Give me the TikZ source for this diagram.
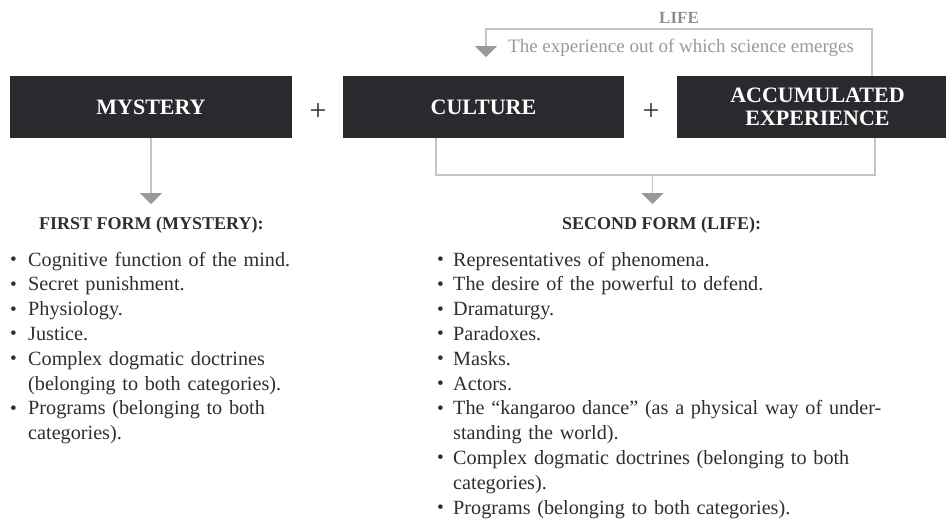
\documentclass[tikz,border=0pt]{standalone}
\usepackage{fontspec}
\setmainfont{Liberation Serif}
\usepackage{graphicx}
\usetikzlibrary{arrows.meta}
\definecolor{boxdark}{HTML}{2A292D}
\definecolor{linegrey}{HTML}{C4C4C4}
\definecolor{tipgrey}{HTML}{999999}
\definecolor{labgrey}{HTML}{8E8E8E}
\definecolor{bodytext}{HTML}{2E2E2E}
\newcommand\lbul[1]{\par\noindent\hangindent=#1\hangafter=1\makebox[#1][l]{\raisebox{0.05ex}{\scalebox{0.95}{\textbullet}}}}
\begin{document}
\begin{tikzpicture}[x=1pt,y=-1pt,
  blackbox/.style={fill=boxdark,draw=none,minimum width=281pt,minimum height=62pt,inner sep=0pt,text=white,align=center,font=\bfseries\fontsize{22}{23}\selectfont},
  plus/.style={text=bodytext,inner sep=0pt,font=\fontsize{30}{30}\selectfont},
  conn/.style={draw=linegrey,line width=1.3pt},
  gtip/.style={-{Triangle[width=22pt,length=11pt,color=tipgrey,fill=tipgrey]}},
  head/.style={text=bodytext,inner sep=0pt,font=\bfseries\fontsize{18}{20}\selectfont},
  blist/.style={text=bodytext,inner sep=0pt,align=left,font=\fontsize{20.2}{24.8}\selectfont}
]
\useasboundingbox (0,0) rectangle (946,520);
\node[blackbox,minimum width=282pt] (mystery) at (151,107) {MYSTERY};
\node[blackbox] (culture) at (483.5,107) {CULTURE};
\node[blackbox] (accum) at (817.5,107) {ACCUMULATED\\EXPERIENCE};
\node[plus] (p1) at (318,112) {+};
\node[plus] (p2) at (651,112) {+};
% top loop
\coordinate (topR) at (872,29);
\coordinate (topL) at (486,29);
\coordinate (topTip) at (486,57);
\draw[conn,gtip] (accum.north -| topR) -- (topR) -- (topL) -- (topTip);
\node[text=labgrey,inner sep=0pt,font=\bfseries\fontsize{17}{17}\selectfont] (life) at (679,18) {LIFE};
\node[text=tipgrey,inner sep=0pt,anchor=base west,font=\fontsize{19}{19}\selectfont] (exp) at (508,52) {The experience out of which science emerges};
% bottom bracket
\coordinate (bl) at (436,175);
\coordinate (br) at (875,175);
\coordinate (bm) at (652.5,175);
\coordinate (tip2) at (652.5,204);
\draw[conn] (culture.south -| bl) -- (bl) -- (br) -- (accum.south -| br);
\draw[conn,gtip] (bm) -- (tip2);
% mystery arrow
\coordinate (tip1) at (151,204);
\draw[conn,gtip] (mystery.south) -- (tip1);
% headings
\node[head,anchor=base west] (h1) at (39,229.5) {FIRST FORM (MYSTERY):};
\node[head,anchor=base west] (h2) at (562,229.5) {SECOND FORM (LIFE):};
% lists
\node[blist,anchor=north west,text width=330pt] (l1) at (10,241) {%
\lbul{18pt}Cognitive function of the mind.
\lbul{18pt}Secret punishment.
\lbul{18pt}Physiology.
\lbul{18pt}Justice.
\lbul{18pt}Complex dogmatic doctrines\newline (belonging to both categories).
\lbul{18pt}Programs (belonging to both\newline categories).\par};
\node[blist,anchor=north west,text width=500pt] (l2) at (437,241) {%
\lbul{16pt}Representatives of phenomena.
\lbul{16pt}The desire of the powerful to defend.
\lbul{16pt}Dramaturgy.
\lbul{16pt}Paradoxes.
\lbul{16pt}Masks.
\lbul{16pt}Actors.
\lbul{16pt}The “kangaroo dance” (as a physical way of under-\newline standing the world).
\lbul{16pt}Complex dogmatic doctrines (belonging to both\newline categories).
\lbul{16pt}Programs (belonging to both categories).\par};
\end{tikzpicture}
\end{document}
